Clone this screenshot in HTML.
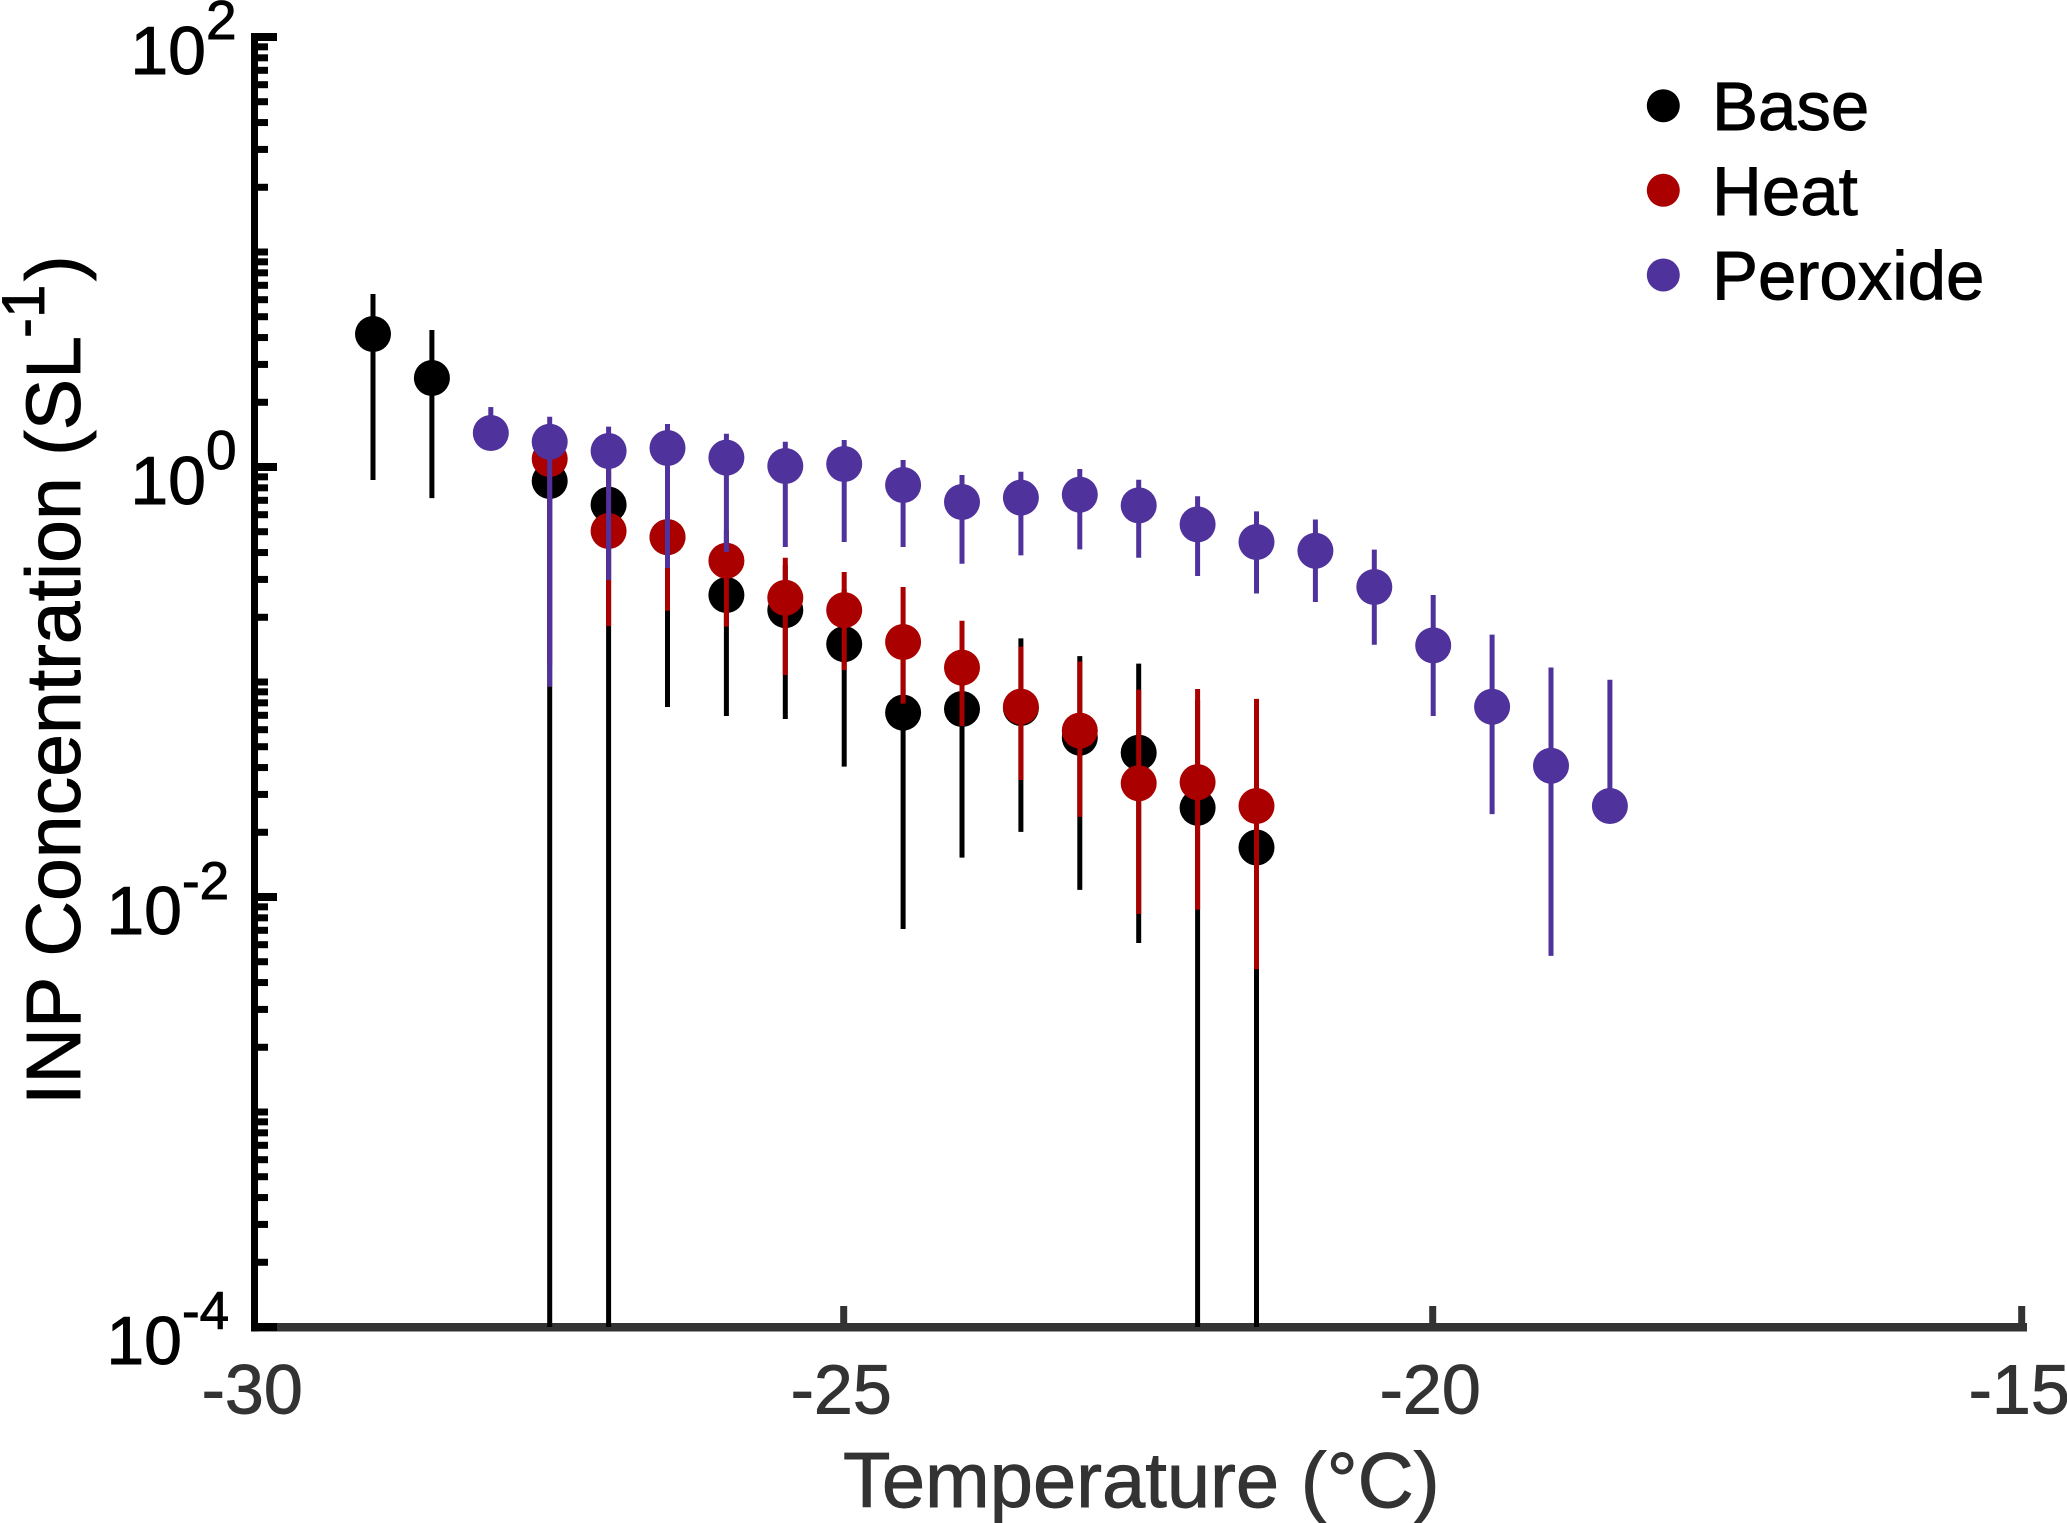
<!DOCTYPE html>
<html lang="en">
<head>
<meta charset="utf-8">
<title>INP Concentration vs Temperature</title>
<style>
html,body{margin:0;padding:0;background:#fff;width:2067px;height:1523px;overflow:hidden}
svg{display:block}
text{font-family:"Liberation Sans",Arial,sans-serif}
text[fill="#000"]{stroke:#000;stroke-width:0.9}
text[fill="#333"]{stroke:#333;stroke-width:0.9}
</style>
</head>
<body>
<svg id="chart" xmlns="http://www.w3.org/2000/svg" width="2067" height="1523" viewBox="0 0 2067 1523">
  <rect width="2067" height="1523" fill="#fff"/>
  <g id="axes"></g>
  <g id="marks"></g>
  <text x="843" y="1507" font-size="77.7" fill="#333">Temperature (°C)</text>
  <g>
    <text transform="translate(80,1105) rotate(-90)" font-size="77" fill="#000">INP Concentration (SL</text>
    <text transform="translate(44,338) rotate(-90)" font-size="60" fill="#000">-1</text>
    <text transform="translate(80,281) rotate(-90)" font-size="77" fill="#000">)</text>
  </g>
  <g id="legend">
    <g>
      <circle cx="1663.3" cy="105.7" r="16.5" fill="#000"/>
      <text x="1712" y="130" font-size="69" fill="#000">Base</text>
    </g>
    <g>
      <circle cx="1663.3" cy="190.3" r="16.5" fill="#aa0000"/>
      <text x="1712" y="215" font-size="69" fill="#000">Heat</text>
    </g>
    <g>
      <circle cx="1663.3" cy="275" r="16.5" fill="#4f329c"/>
      <text x="1712" y="299.5" font-size="69" fill="#000">Peroxide</text>
    </g>
  </g>
</svg>
<script>
// x tick labels and y decade exponents
const xTicks = [-30, -25, -20, -15];
const yDecades = [2, 0, -2, -4];
const yMinorDecades = [1, 0, -1, -2, -3, -4];
const yMinorMultipliers = [2, 3, 4, 5, 6, 7, 8, 9];
const yUnlabeledDecades = [1, -1, -3];

// Base series
const baseT = [-29, -28.5, -27.5, -27, -26.5, -26, -25.5, -25, -24.5, -24, -23.5, -23, -22.5, -22, -21.5];
const baseV = [4.155, 2.594, 0.861, 0.668, 0.472, 0.254, 0.216, 0.150, 0.0720, 0.0749, 0.0757, 0.0551, 0.0469, 0.0260, 0.0170];
const baseHi = [6.38, 4.34, 1.3, 1.0, 0.75, 0.45, 0.35, 0.27, 0.16, 0.17, 0.1595, 0.132, 0.1217, 0.0824, 0.07];
const baseLo = [0.870, 0.717, 0.0001, 0.0001, 0.0765, 0.0695, 0.0673, 0.0404, 0.0071, 0.01524, 0.0201, 0.0108, 0.00611, 0.0001, 0.0001];

// Heat series
const heatT = [-27.5, -27, -26.5, -26, -25.5, -25, -24.5, -24, -23.5, -23, -22.5, -22, -21.5];
const heatV = [1.089, 0.504, 0.472, 0.3666, 0.2466, 0.216, 0.1535, 0.1166, 0.0768, 0.0594, 0.0338, 0.0342, 0.0265];
const heatHi = [1.5, 1.0, 0.680, 0.509, 0.3786, 0.325, 0.2766, 0.1928, 0.146, 0.1245, 0.0922, 0.0928, 0.0835];
const heatLo = [0.12, 0.182, 0.2146, 0.181, 0.1078, 0.1137, 0.0793, 0.0624, 0.035, 0.0236, 0.00834, 0.00874, 0.00461];

// Peroxide series
const peroxT = [-28, -27.5, -27, -26.5, -26, -25.5, -25, -24.5, -24, -23.5, -23, -22.5, -22, -21.5, -21, -20.5, -20, -19.5, -19, -18.5];
const peroxV = [1.439, 1.311, 1.187, 1.226, 1.105, 1.011, 1.033, 0.825, 0.6875, 0.72, 0.744, 0.663, 0.541, 0.4477, 0.408, 0.2766, 0.148, 0.0767, 0.0408, 0.0265];
const peroxHi = [1.90, 1.714, 1.54, 1.585, 1.428, 1.311, 1.335, 1.078, 0.918, 0.950, 0.979, 0.872, 0.7306, 0.6214, 0.570, 0.413, 0.254, 0.1662, 0.1168, 0.1024];
const peroxLo = [1.3, 0.0951, 0.298, 0.339, 0.4024, 0.4246, 0.4477, 0.4246, 0.355, 0.388, 0.414, 0.3785, 0.311, 0.258, 0.2355, 0.149, 0.0695, 0.0243, 0.00532, 0.0265];

const NS = 'http://www.w3.org/2000/svg';
const xScale = t => 255.2 + (t + 30) * 117.8;
const yScale = v => 37 + (2 - Math.log10(v)) * 215;
const axesG = document.getElementById('axes');
const marksG = document.getElementById('marks');

function make(tag, attrs, parent) {
  const node = document.createElementNS(NS, tag);
  for (const k in attrs) node.setAttribute(k, attrs[k]);
  parent.appendChild(node);
  return node;
}

// Axis lines
const xAxisLine = make('rect', {x: 251, y: 1323, width: 1776, height: 8.5, fill: '#333'}, axesG);


const yAxisLine = make('rect', {x: 251, y: 33, width: 7, height: 1298.5, fill: '#000'}, axesG);



// X ticks and labels
xTicks.forEach(t => {
  const px = xScale(t);
  if (t > -30) {
    const tick = make('rect', {x: px - 4, y: 1306, width: 7, height: 20, fill: '#333'}, axesG);
    
    
  }
  const label = make('text', {x: px - 3, y: 1413.5, 'font-size': 70, fill: '#333', 'text-anchor': 'middle'}, axesG);
  label.textContent = String(t);
  
  
});

// Y major ticks and labels
yDecades.forEach(k => {
  const py = yScale(Math.pow(10, k));
  const tick = make('rect', {x: 251, y: py - 4, width: 26, height: 8, fill: '#000'}, axesG);
  
  
  const split = k >= 0 ? 206 : 182;
  const base = make('text', {x: split, y: py + 37, 'font-size': 68, fill: '#000', 'text-anchor': 'end'}, axesG);
  base.textContent = '10';
  
  
  const exp = make('text', {x: split, y: py + 2, 'font-size': k >= 0 ? 55 : 53, fill: '#000'}, axesG);
  exp.textContent = String(k);
  
  
});

// Y minor ticks
yMinorDecades.forEach(k => {
  yMinorMultipliers.forEach(m => {
    const py = yScale(m * Math.pow(10, k));
    const tick = make('rect', {x: 251, y: py - 3.5, width: 17, height: 7, fill: '#000'}, axesG);
    
    
  });
});

// Unlabeled decade ticks share the minor tick length
yUnlabeledDecades.forEach(k => {
  const py = yScale(Math.pow(10, k));
  const tick = make('rect', {x: 251, y: py - 3.5, width: 17, height: 7, fill: '#000'}, axesG);
  
  
});

// Series
function drawSeries(name, color, ts, vals, his, los) {
  const group = make('g', {}, marksG);
  
  
  ts.forEach((t, i) => {
    const px = xScale(t);
    const bar = make('line', {x1: px, x2: px, y1: yScale(his[i]), y2: yScale(los[i]), stroke: color, 'stroke-width': 5}, group);
    
    
    const dot = make('circle', {cx: px, cy: yScale(vals[i]), r: 18, fill: color}, group);
    
    
  });
}
drawSeries('base', '#000000', baseT, baseV, baseHi, baseLo);
drawSeries('heat', '#aa0000', heatT, heatV, heatHi, heatLo);
drawSeries('peroxide', '#4f329c', peroxT, peroxV, peroxHi, peroxLo);
</script>
</body>
</html>
